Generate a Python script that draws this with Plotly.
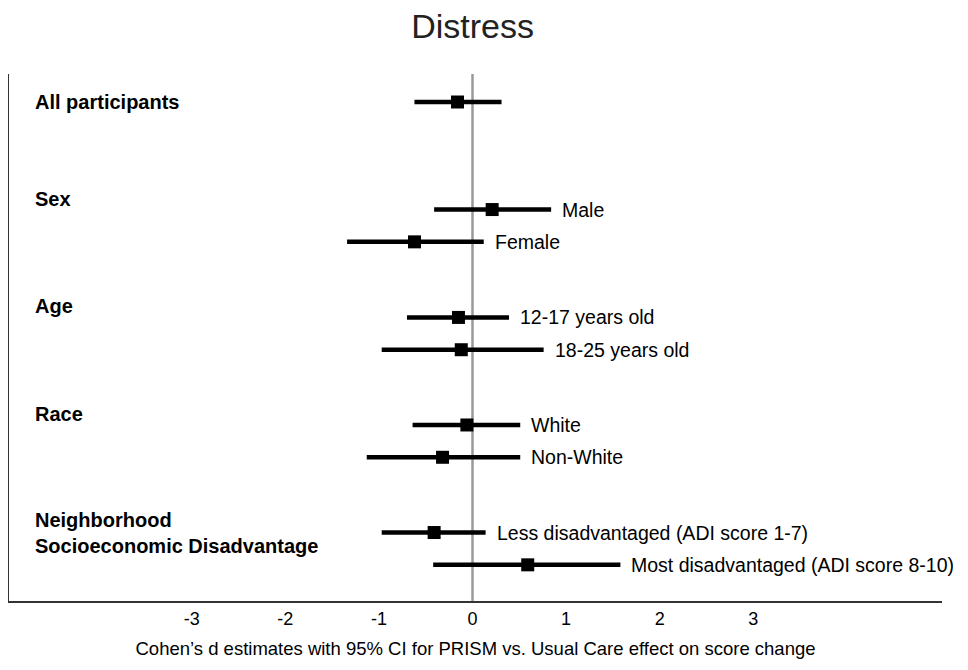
import plotly.graph_objects as go

# subgroup rows (row units from top), estimates and 95% CI
labels = ["", "Male", "Female", "12-17 years old", "18-25 years old",
          "White", "Non-White", "Less disadvantaged (ADI score 1-7)",
          "Most disadvantaged (ADI score 8-10)"]
rows = [0, 3.33, 4.33, 6.67, 7.67, 10, 11, 13.33, 14.33]
est = [-0.16, 0.21, -0.62, -0.15, -0.12, -0.06, -0.32, -0.41, 0.59]
ci_lo = [-0.62, -0.41, -1.34, -0.70, -0.97, -0.64, -1.13, -0.97, -0.42]
ci_hi = [0.31, 0.84, 0.12, 0.39, 0.76, 0.51, 0.51, 0.14, 1.58]

headers = ["<b>All participants</b>", "<b>Sex</b>", "<b>Age</b>", "<b>Race</b>",
           "<b>Neighborhood<br>Socioeconomic Disadvantage</b>"]
header_rows = [0, 3.0, 6.33, 9.67, 13.33]

ticks = [-3, -2, -1, 0, 1, 2, 3]

font = "Liberation Sans, Arial, sans-serif"

fig = go.Figure()

# zero reference line
fig.add_shape(type="line", x0=0, x1=0, y0=0, y1=1, xref="x", yref="paper",
              line=dict(color="#999999", width=2.5), layer="below")

# CI segments
xs, ys = [], []
for lo, hi, r in zip(ci_lo, ci_hi, rows):
    xs += [lo, hi, None]
    ys += [r, r, None]
fig.add_trace(go.Scatter(x=xs, y=ys, mode="lines",
                         line=dict(color="black", width=4.5),
                         showlegend=False, hoverinfo="skip"))

fig.add_trace(go.Scatter(x=est, y=rows, mode="markers",
                         marker=dict(symbol="square", size=13, color="black"),
                         showlegend=False))

for lab, hi, r in zip(labels, ci_hi, rows):
    if lab:
        fig.add_annotation(x=hi, y=r, text=lab, showarrow=False,
                           xanchor="left", yanchor="middle", xshift=9,
                           font=dict(size=19.5, color="black", family=font))

for h, r in zip(headers, header_rows):
    fig.add_annotation(x=0.0257, xref="paper", y=r, text=h, showarrow=False,
                       xanchor="left", yanchor="middle", align="left",
                       font=dict(size=20, color="black", family=font))

fig.update_layout(
    width=960, height=662,
    margin=dict(l=1, r=26, t=66, b=69),
    plot_bgcolor="white", paper_bgcolor="white",
    font=dict(family=font, color="black"),
    title=dict(text="Distress", x=0.484, xanchor="center", y=0.99, yanchor="top",
               font=dict(size=34, color="#222222", family=font)),
    xaxis=dict(range=[-4.952, 5.016], tickvals=ticks, ticktext=[str(t) for t in ticks],
               showgrid=False, zeroline=False, showline=True, linecolor="#333333",
               linewidth=2, ticks="", tickfont=dict(size=18, color="black"),
               title=dict(text="Cohen’s d estimates with 95% CI for PRISM vs. Usual Care effect on score change",
                          font=dict(size=18.5, color="black"), standoff=14)),
    yaxis=dict(range=[15.45, -0.867], showticklabels=False, showgrid=False,
               zeroline=False, showline=True, linecolor="#333333", linewidth=2,
               ticks=""),
)

fig.write_html("out.html")
